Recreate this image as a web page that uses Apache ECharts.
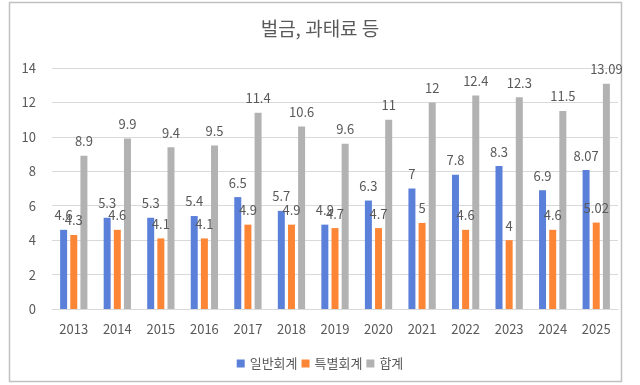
<!DOCTYPE html>
<html><head><meta charset="utf-8">
<script src="https://cdn.jsdelivr.net/npm/echarts@6/dist/echarts.min.js"></script>
<style>html,body{margin:0;padding:0;background:#fff}#c{width:640px;height:385px}</style>
</head><body><div id="c"></div>
<script>
const categories = ['2013','2014','2015','2016','2017','2018','2019','2020','2021','2022','2023','2024','2025'];
const general = [4.6,5.3,5.3,5.4,6.5,5.7,4.9,6.3,7,7.8,8.3,6.9,8.07];
const special = [4.3,4.6,4.1,4.1,4.9,4.9,4.7,4.7,5,4.6,4,4.6,5.02];
const total = [8.9,9.9,9.4,9.5,11.4,10.6,9.6,11,12,12.4,12.3,11.5,13.09];
const seriesNames = ['일반회계','특별회계','합계'];
const yTicks = {min:0,max:14,interval:2};

const font = '"Noto Sans CJK KR", "Noto Sans", sans-serif';
const chart = echarts.init(document.getElementById('c'));
const lbl = {show:true,position:'top',distance:8,color:'#595959',fontSize:13,fontFamily:font};
chart.setOption({
  animation:false,
  title:{text:'벌금, 과태료 등',left:'center',top:14,textStyle:{color:'#595959',fontSize:19,fontWeight:'normal',fontFamily:font}},
  graphic:[{type:'rect',shape:{x:9.5,y:2.5,width:612,height:379},style:{fill:'none',stroke:'#c0c0c0',lineWidth:1.5},silent:true}],
  legend:{bottom:10,left:'center',itemWidth:8,itemHeight:8,itemGap:4,icon:'rect',
    textStyle:{color:'#595959',fontSize:13,fontFamily:font},data:seriesNames},
  grid:{left:52,right:22,top:68,bottom:76},
  xAxis:{type:'category',data:categories,axisTick:{show:false},
    axisLine:{lineStyle:{color:'#d9d9d9'}},
    axisLabel:{color:'#595959',fontSize:13,fontFamily:font,margin:14}},
  yAxis:{type:'value',min:yTicks.min,max:yTicks.max,interval:yTicks.interval,
    axisLine:{show:false},axisTick:{show:false},
    splitLine:{lineStyle:{color:'#d9d9d9'}},
    axisLabel:{color:'#595959',fontSize:13,fontFamily:font,margin:16}},
  series:[
    {name:seriesNames[0],type:'bar',data:general,itemStyle:{color:'#5b80d9'},barWidth:7,barGap:'45%',label:lbl},
    {name:seriesNames[1],type:'bar',data:special,itemStyle:{color:'#fd8636'},barWidth:7,barGap:'45%',label:lbl},
    {name:seriesNames[2],type:'bar',data:total,itemStyle:{color:'#b2b2b2'},barWidth:7,barGap:'45%',label:lbl}
  ]
});
</script></body></html>
